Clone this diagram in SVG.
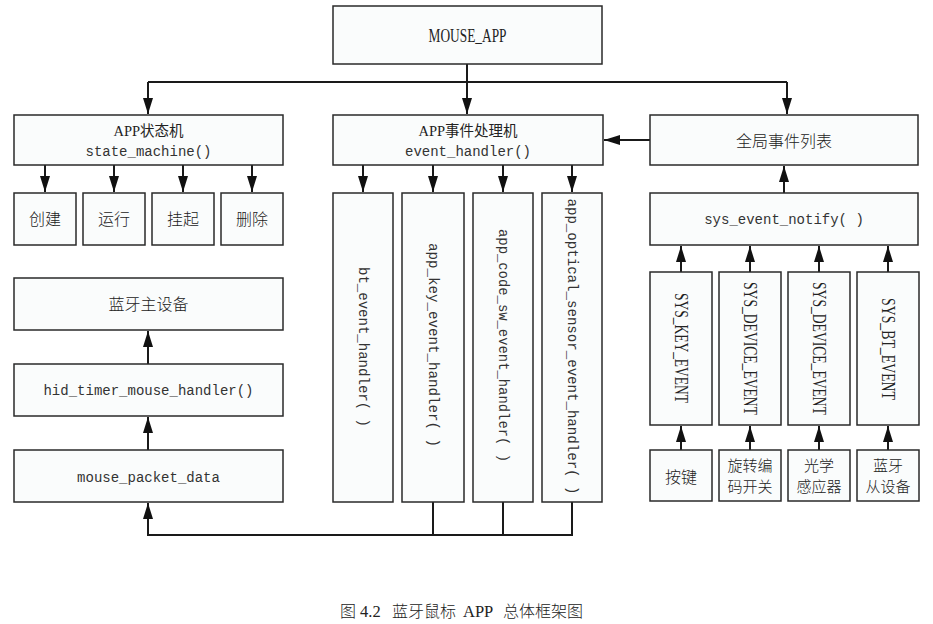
<svg xmlns="http://www.w3.org/2000/svg" width="933" height="624" viewBox="0 0 933 624">
  <style>
    .box { fill: #fafcfc; stroke: #2a2a2a; stroke-width: 1.5; }
    .conn { fill: none; stroke: #1a1a1a; stroke-width: 2; }
    .arr { marker-end: url(#head); }
    text { fill: #222; }
    .mono { font-family: "Liberation Mono", "Noto Sans CJK SC", monospace; font-size: 14px; fill: #333; }
    .title { font-family: "Liberation Serif", "Noto Sans CJK SC", serif; font-size: 14.5px; }
    .cjk { font-family: "Noto Sans CJK SC", sans-serif; font-size: 16px; font-weight: 300; }
    .cjk2 { font-family: "Noto Sans CJK SC", sans-serif; font-size: 15px; font-weight: 300; }
    .cond { font-family: "Liberation Serif", serif; font-size: 18px; }
    .cap { font-family: "Liberation Serif", "Noto Sans CJK SC", serif; font-size: 16.5px; }
    .capc { font-family: "Noto Sans CJK SC", sans-serif; font-size: 16px; font-weight: 300; }
  </style>
  <defs>
    <marker id="head" viewBox="0 0 16 10" refX="16" refY="5" markerWidth="16" markerHeight="10" markerUnits="userSpaceOnUse" orient="auto">
      <path d="M0,0 L16,5 L0,10 z" fill="#111"/>
    </marker>
  </defs>

  <!-- connectors -->
  <g id="connectors">
    <path class="conn" d="M467,64 V82 M148,82 H787"/>
    <path class="conn arr" d="M148,82 V114"/>
    <path class="conn arr" d="M467,82 V114"/>
    <path class="conn arr" d="M787,82 V114"/>

    <path class="conn arr" d="M45,165 V192"/>
    <path class="conn arr" d="M114,165 V192"/>
    <path class="conn arr" d="M183,165 V192"/>
    <path class="conn arr" d="M252,165 V192"/>

    <path class="conn arr" d="M363,165 V192"/>
    <path class="conn arr" d="M433,165 V192"/>
    <path class="conn arr" d="M503,165 V192"/>
    <path class="conn arr" d="M572,165 V192"/>

    <path class="conn arr" d="M650,140 H604"/>
    <path class="conn arr" d="M784,193 V166"/>

    <path class="conn arr" d="M681,272 V246"/>
    <path class="conn arr" d="M750,272 V246"/>
    <path class="conn arr" d="M819,272 V246"/>
    <path class="conn arr" d="M888,272 V246"/>

    <path class="conn arr" d="M681,450 V426"/>
    <path class="conn arr" d="M750,450 V426"/>
    <path class="conn arr" d="M819,450 V426"/>
    <path class="conn arr" d="M888,450 V426"/>

    <path class="conn arr" d="M148,364 V331"/>
    <path class="conn arr" d="M148,450 V417"/>

    <path class="conn" d="M433,502 V535 M503,502 V535"/>
    <path class="conn arr" d="M572,502 V535 H148 V503"/>
  </g>

  <!-- top node -->
  <g id="mouse_app">
    <rect class="box" x="333" y="6" width="269" height="58"/>
    <text class="cond" x="467.5" y="41.5" text-anchor="middle" textLength="78" lengthAdjust="spacingAndGlyphs">MOUSE_APP</text>
  </g>

  <!-- state machine branch -->
  <g id="state_machine">
    <rect class="box" x="14" y="115" width="269" height="50"/>
    <text class="title" x="148.5" y="136" text-anchor="middle">APP状态机</text>
    <text class="mono" x="148.5" y="156" text-anchor="middle">state_machine()</text>
  </g>
  <g id="st_create">
    <rect class="box" x="14" y="193" width="62" height="52"/>
    <text class="cjk" x="45" y="225" text-anchor="middle">创建</text>
  </g>
  <g id="st_run">
    <rect class="box" x="83" y="193" width="62" height="52"/>
    <text class="cjk" x="114" y="225" text-anchor="middle">运行</text>
  </g>
  <g id="st_suspend">
    <rect class="box" x="152" y="193" width="62" height="52"/>
    <text class="cjk" x="183" y="225" text-anchor="middle">挂起</text>
  </g>
  <g id="st_delete">
    <rect class="box" x="221" y="193" width="62" height="52"/>
    <text class="cjk" x="252" y="225" text-anchor="middle">删除</text>
  </g>

  <!-- HID data path -->
  <g id="bt_master">
    <rect class="box" x="14" y="278" width="269" height="52"/>
    <text class="cjk" x="148.5" y="310" text-anchor="middle" font-size="17">蓝牙主设备</text>
  </g>
  <g id="hid_timer">
    <rect class="box" x="14" y="364" width="269" height="52"/>
    <text class="mono" x="148.5" y="395" text-anchor="middle">hid_timer_mouse_handler()</text>
  </g>
  <g id="mouse_packet">
    <rect class="box" x="14" y="450" width="269" height="52"/>
    <text class="mono" x="148.5" y="482" text-anchor="middle">mouse_packet_data</text>
  </g>

  <!-- event handler branch -->
  <g id="event_handler">
    <rect class="box" x="333" y="115" width="270" height="50"/>
    <text class="title" x="468" y="136" text-anchor="middle">APP事件处理机</text>
    <text class="mono" x="468" y="156" text-anchor="middle">event_handler()</text>
  </g>
  <g id="bt_event_handler">
    <rect class="box" x="333" y="193" width="60" height="309"/>
    <text class="mono" transform="translate(363,347) rotate(90)" x="0" y="4.5" text-anchor="middle" textLength="160" lengthAdjust="spacingAndGlyphs">bt_event_handler( )</text>
  </g>
  <g id="key_event_handler">
    <rect class="box" x="402" y="193" width="62" height="309"/>
    <text class="mono" transform="translate(433,345) rotate(90)" x="0" y="4.5" text-anchor="middle" textLength="204" lengthAdjust="spacingAndGlyphs">app_key_event_handler( )</text>
  </g>
  <g id="code_sw_event_handler">
    <rect class="box" x="473" y="193" width="60" height="309"/>
    <text class="mono" transform="translate(503,345.5) rotate(90)" x="0" y="4.5" text-anchor="middle" textLength="233" lengthAdjust="spacingAndGlyphs">app_code_sw_event_handler( )</text>
  </g>
  <g id="optical_event_handler">
    <rect class="box" x="542" y="193" width="60" height="309"/>
    <text class="mono" transform="translate(572,346.5) rotate(90)" x="0" y="4.5" text-anchor="middle" textLength="296" lengthAdjust="spacingAndGlyphs">app_optical_sensor_event_handler( )</text>
  </g>

  <!-- global event branch -->
  <g id="global_events">
    <rect class="box" x="650" y="115" width="268" height="50"/>
    <text class="cjk" x="784" y="147" text-anchor="middle" font-size="17">全局事件列表</text>
  </g>
  <g id="sys_event_notify">
    <rect class="box" x="650" y="193" width="268" height="52"/>
    <text class="mono" x="784" y="224" text-anchor="middle">sys_event_notify( )</text>
  </g>
  <g id="sys_key_event">
    <rect class="box" x="650" y="272" width="62" height="153"/>
    <text class="cond" transform="translate(681,348) rotate(90)" x="0" y="6" text-anchor="middle" textLength="110" lengthAdjust="spacingAndGlyphs">SYS_KEY_EVENT</text>
  </g>
  <g id="sys_device_event_1">
    <rect class="box" x="719" y="272" width="62" height="153"/>
    <text class="cond" transform="translate(750,348.5) rotate(90)" x="0" y="6" text-anchor="middle" textLength="133" lengthAdjust="spacingAndGlyphs">SYS_DEVICE_EVENT</text>
  </g>
  <g id="sys_device_event_2">
    <rect class="box" x="788" y="272" width="62" height="153"/>
    <text class="cond" transform="translate(819,348.5) rotate(90)" x="0" y="6" text-anchor="middle" textLength="133" lengthAdjust="spacingAndGlyphs">SYS_DEVICE_EVENT</text>
  </g>
  <g id="sys_bt_event">
    <rect class="box" x="857" y="272" width="62" height="153"/>
    <text class="cond" transform="translate(888,349) rotate(90)" x="0" y="6" text-anchor="middle" textLength="102" lengthAdjust="spacingAndGlyphs">SYS_BT_EVENT</text>
  </g>
  <g id="src_key">
    <rect class="box" x="650" y="450" width="62" height="51"/>
    <text class="cjk" x="681" y="483" text-anchor="middle">按键</text>
  </g>
  <g id="src_encoder">
    <rect class="box" x="719" y="450" width="62" height="51"/>
    <text class="cjk2" x="750" y="471" text-anchor="middle">旋转编</text>
    <text class="cjk2" x="750" y="492" text-anchor="middle">码开关</text>
  </g>
  <g id="src_optical">
    <rect class="box" x="788" y="450" width="62" height="51"/>
    <text class="cjk2" x="819" y="471" text-anchor="middle">光学</text>
    <text class="cjk2" x="819" y="492" text-anchor="middle">感应器</text>
  </g>
  <g id="src_bt_slave">
    <rect class="box" x="857" y="450" width="62" height="51"/>
    <text class="cjk2" x="888" y="471" text-anchor="middle">蓝牙</text>
    <text class="cjk2" x="888" y="492" text-anchor="middle">从设备</text>
  </g>

  <!-- caption -->
  <g id="caption">
    <text class="capc" x="340" y="617">图</text>
    <text class="cap" x="360" y="617">4.2</text>
    <text class="capc" x="392" y="617">蓝牙鼠标</text>
    <text class="cap" x="463" y="617">APP</text>
    <text class="capc" x="503" y="617">总体框架图</text>
  </g>
</svg>
